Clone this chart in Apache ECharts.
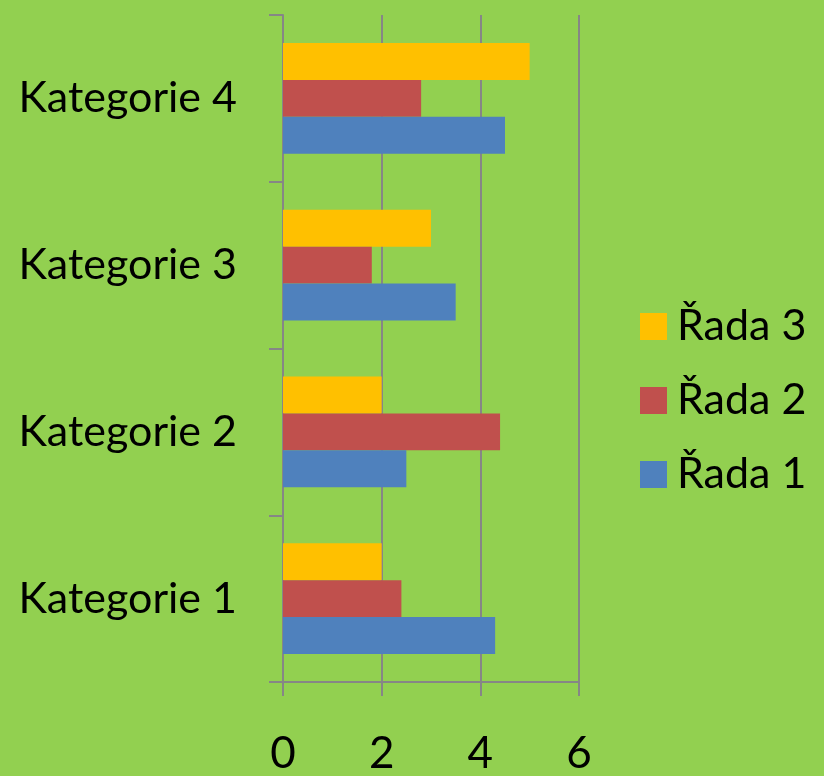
<!DOCTYPE html>
<html><head><meta charset="utf-8">
<script src="https://cdn.jsdelivr.net/npm/echarts@6/dist/echarts.min.js"></script>
<style>html,body{margin:0;padding:0;background:#92D050;}#c{width:824px;height:776px;}</style>
</head><body><div id="c"></div>
<script>
const categories = ['Kategorie 1', 'Kategorie 2', 'Kategorie 3', 'Kategorie 4'];
const rada1 = [4.3, 2.5, 3.5, 4.5];
const rada2 = [2.4, 4.4, 1.8, 2.8];
const rada3 = [2, 2, 3, 5];
const seriesNames = ['Řada 1', 'Řada 2', 'Řada 3'];
const colors = ['#4F81BD', '#C0504D', '#FFC000'];
const xTicks = [0, 2, 4, 6];

const FONT = 'Lato';
const chart = echarts.init(document.getElementById('c'), null, {renderer: 'canvas'});
const gray = '#868686';
const barCommon = {type: 'bar', barGap: '0%', barCategoryGap: '33.5%'};
chart.setOption({
  backgroundColor: '#92D050',
  animation: false,
  grid: {left: 283, right: 245, top: 15, bottom: 84, containLabel: false},
  legend: {
    orient: 'vertical',
    left: 640, top: 305, padding: 0,
    data: [seriesNames[2], seriesNames[1], seriesNames[0]],
    itemWidth: 27, itemHeight: 27, itemGap: 31,
    icon: 'rect',
    textStyle: {fontFamily: FONT, fontSize: 43, color: '#000', lineHeight: 43, padding: [0,0,0,5]}
  },
  xAxis: {
    type: 'value', min: xTicks[0], max: xTicks[xTicks.length-1], interval: 2,
    axisLine: {show: true, lineStyle: {color: gray, width: 2}},
    axisTick: {show: true, length: 14, lineStyle: {color: gray, width: 2}},
    splitLine: {show: true, lineStyle: {color: gray, width: 2}},
    axisLabel: {fontFamily: FONT, fontSize: 44, color: '#000', margin: 50}
  },
  yAxis: {
    type: 'category', data: categories,
    axisLine: {show: true, lineStyle: {color: gray, width: 2}},
    axisTick: {show: true, length: 14, lineStyle: {color: gray, width: 2}},
    axisLabel: {fontFamily: FONT, fontSize: 43, color: '#000', margin: 46}
  },
  series: [
    Object.assign({name: seriesNames[2], data: rada3, itemStyle: {color: colors[2]}}, barCommon),
    Object.assign({name: seriesNames[1], data: rada2, itemStyle: {color: colors[1]}}, barCommon),
    Object.assign({name: seriesNames[0], data: rada1, itemStyle: {color: colors[0]}}, barCommon)
  ]
});
</script></body></html>
